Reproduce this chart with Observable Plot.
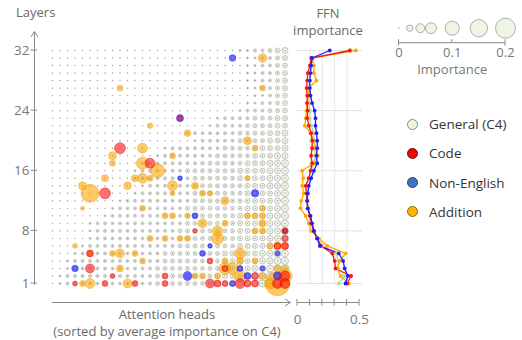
<!DOCTYPE html>
<html><head><meta charset="utf-8">
<script src="https://cdn.jsdelivr.net/npm/d3@7"></script>
<script src="https://cdn.jsdelivr.net/npm/@observablehq/plot@0.6"></script>
<style>
body{margin:0;background:#fff;font-family:"Open Sans",sans-serif;}
#wrap{position:relative;width:522px;height:340px;overflow:hidden;background:#fff}
#wrap svg{position:absolute;left:0;top:0}
.leg{position:absolute;left:407px;font:13.5px "Open Sans",sans-serif;color:#333;display:flex;align-items:center;height:20px}
.leg span.c{display:inline-block;width:11px;height:11px;border-radius:50%;margin-right:11px;box-sizing:border-box}
</style></head><body><div id="wrap"></div>
<script>
// ---------- data ----------
const layerTicks = [1, 8, 16, 24, 32];
const layers = [1,2,3,4,5,6,7,8,9,10,11,12,13,14,15,16,17,18,19,20,21,22,23,24,25,26,27,28,29,30,31,32];
// General (C4) head importance, level digit per head (32 heads), rows from layer 32 down to layer 1
const c4Levels = [0, 0.0005, 0.002, 0.0045, 0.008, 0.0125, 0.018, 0.0245, 0.032, 0.0405];
const c4Rows = [
"00000000 00000000 00000000 02233456", //32
"00000000 00000000 00000000 00223345", //31
"00000000 00000000 00000000 00223345", //30
"00000000 00000000 00000000 00223345", //29
"00000000 00000000 00000000 00223345", //28
"00000000 00000000 00000000 00223345", //27
"00000000 00000000 00000000 00022345", //26
"00000000 00000000 00000000 00223345", //25
"00000000 00000000 00000000 02333445", //24
"00000000 00000000 00000023 33344455", //23
"00000000 00000000 00000233 33444455", //22
"00000000 00000000 00233333 34444556", //21
"00000000 00000000 00023333 34444556", //20
"00000000 00000002 33333334 44445556", //19
"00000000 00000023 33333344 44455566", //18
"00000000 00002333 33334444 44555667", //17
"00000000 00023333 33444444 45555667", //16
"00000000 00023333 33344444 45555667", //15
"00000000 00002333 33344444 44555667", //14
"00000000 00023333 33344444 44555567", //13
"00000000 02333333 33344444 44555567", //12
"00000000 23333333 33444444 44555567", //11
"00000002 33333333 33444444 45555667", //10
"00000233 33333333 33444444 45555667", //9
"00000233 33333333 34444444 45555667", //8
"00000233 33333333 34444444 45555667", //7
"00002333 33333333 34444444 45555667", //6
"00023333 33333334 44444445 55556677", //5
"00233333 33333334 44444445 55556677", //4
"00233333 33333344 44444445 55566778", //3
"02333333 33333344 44444455 55566778", //2
"02333333 33333344 44444455 55667788"  //1
];
// [head, layer, importance]
const additionCells = [
[28,31,0.037],[9,27,0.018],[28,27,0.018],[13,22,0.015],[18,21,0.022],[26,20,0.032],
[27,19,0.018],[12,19,0.05],[8,18,0.032],[16,18,0.018],[8,17,0.018],[12,17,0.072],
[14,16,0.1],[7,15,0.025],[11,15,0.025],[12,15,0.05],[13,15,0.018],[26,15,0.012],
[4,14,0.032],[10,14,0.028],[16,14,0.05],[19,14,0.025],[5,13,0.16],[16,13,0.012],
[20,13,0.018],[21,13,0.015],[23,12,0.032],[4,11,0.008],[12,11,0.018],[28,11,0.018],
[15,10,0.018],[16,10,0.018],[18,10,0.015],[26,10,0.018],[27,10,0.018],[28,10,0.018],
[20,9,0.04],[23,9,0.018],[28,9,0.027],[22,8,0.05],[27,8,0.018],[28,8,0.018],[31,8,0.018],
[22,7,0.072],[13,7,0.018],[15,7,0.018],[17,7,0.018],[18,7,0.018],
[3,6,0.012],[29,6,0.018],[30,6,0.025],[31,6,0.02],
[25,5,0.06],[5,5,0.018],[8,5,0.018],[9,5,0.04],[11,5,0.018],
[12,4,0.018],[23,4,0.018],[25,4,0.025],[27,4,0.018],
[9,3,0.025],[23,3,0.072],[24,3,0.072],[30,3,0.02],[31,3,0.018],
[19,2,0.018],[20,2,0.018],[22,2,0.018],[25,2,0.072],[28,2,0.025],[31,2,0.1],
[4,1,0.018],[5,1,0.05],[10,1,0.04],[29,1,0.06],[30,1,0.3]
];
const nonEnglishCells = [
[24,31,0.022],[17,23,0.025],[17,15,0.012],[27,13,0.028],[19,10,0.018],[31,8,0.01],
[21,6,0.0106],[20,5,0.018],[30,5,0.0125],[3,3,0.022],[25,3,0.018],[28,3,0.0125],
[18,2,0.04],[26,2,0.025],[30,2,0.032],[24,1,0.018]
];
const codeCells = [
[17,23,0.012],[9,19,0.06],[13,17,0.05],[7,13,0.06],[19,8,0.011],[31,8,0.018],[31,7,0.018],
[30,6,0.025],[31,6,0.025],[5,5,0.025],[21,4,0.018],[5,3,0.04],[23,3,0.02],
[8,2,0.0125],[15,2,0.018],[27,2,0.025],[31,2,0.05],
[3,1,0.0125],[7,1,0.018],[11,1,0.018],[15,1,0.018],[21,1,0.04],[22,1,0.025],[23,1,0.018],
[25,1,0.05],[26,1,0.025],[27,1,0.025],[30,1,0.05],[31,1,0.05]
];
// FFN importance per layer (layer 1 .. 32)
const ffnC4 = [0.333,0.38,0.33,0.33,0.31,0.2,0.16,0.13,0.11,0.1,0.08,0.075,0.075,0.075,0.09,0.11,0.135,0.14,0.135,0.135,0.13,0.11,0.1,0.1,0.095,0.095,0.09,0.1,0.1,0.11,0.115,0.43];
const ffnCode = [0.40,0.433,0.306,0.30,0.28,0.19,0.159,0.132,0.11,0.099,0.083,0.078,0.073,0.065,0.091,0.105,0.118,0.11,0.118,0.118,0.11,0.091,0.078,0.083,0.078,0.078,0.073,0.078,0.083,0.10,0.11,0.422];
const ffnNonEnglish = [0.387,0.406,0.38,0.368,0.333,0.18,0.159,0.132,0.118,0.105,0.083,0.078,0.083,0.091,0.11,0.132,0.159,0.153,0.159,0.159,0.153,0.145,0.145,0.138,0.118,0.105,0.099,0.099,0.105,0.11,0.118,0.26];
const ffnAddition = [0.414,0.347,0.32,0.341,0.387,0.24,0.172,0.11,0.091,0.065,0.024,0.03,0.051,0.038,0.046,0.038,0.132,0.164,0.145,0.132,0.105,0.059,0.067,0.073,0.073,0.091,0.091,0.153,0.132,0.132,0.118,0.47];
const ffnTicks = [0, 0.1, 0.2, 0.3, 0.4, 0.5];
const ffnTickLabels = [0, 0.5];
const ffnGridValues = [0.1, 0.2, 0.3, 0.4];
const sizeLegendValues = [0, 0.02, 0.04, 0.06, 0.1, 0.15, 0.2];
const sizeTicks = [0, 0.1, 0.2];
const seriesNames = ["General (C4)", "Code", "Non-English", "Addition"];
const lineColors = ["#b9dd9a", "#ff1414", "#1d1dff", "#ffa800"];

// ---------- build tables ----------
const c4Cells = [];
c4Rows.forEach((row, i) => {
  const layer = 32 - i;
  row.replace(/ /g, "").split("").forEach((d, h) => c4Cells.push({head: h, layer, v: c4Levels[+d]}));
});
const ffnSeries = [ffnC4, ffnCode, ffnNonEnglish, ffnAddition];
const ffnOrder = [0, 3, 1, 2];
const ffnData = [];
ffnOrder.forEach(si => layers.forEach((L, i) => ffnData.push({series: seriesNames[si], layer: L, v: ffnSeries[si][i]})));

const W = 522, H = 340;
const font = {fontFamily: "'Open Sans', sans-serif", fontSize: "13px", color: "#777", background: "transparent", overflow: "visible"};
const rScale = {type: "sqrt", domain: [0, 0.2], range: [0, 10]};
const yScale = {domain: [1, 32], range: [283, 50], label: null};
const cellXY = {x: d => d[0], y: d => d[1], r: d => d[2]};

// ---------- main grid ----------
const grid = Plot.plot({
  width: W, height: H, marginLeft: 35, marginRight: 230, marginTop: 32, marginBottom: 37,
  x: {domain: [0, 31], range: [52, 284.5], axis: null},
  y: yScale, r: rScale, style: font,
  marks: [
    Plot.axisY(layerTicks, {anchor: "left", tickSize: 0, tickPadding: 6, fontSize: 13.5, fill: "#777"}),
    Plot.dot(c4Cells.filter(d => d.v > 0), {x: "head", y: "layer", r: "v", fill: "#eef6e3", stroke: "#a8a8a8", strokeWidth: 0.65}),
    Plot.dot(additionCells, {...cellXY, fill: "#ffa600", fillOpacity: 0.6, stroke: "#e89a00", strokeOpacity: 0.6, strokeWidth: 0.7}),
    Plot.dot(nonEnglishCells, {...cellXY, fill: "#1515ff", fillOpacity: 0.65, stroke: "#1515ff", strokeOpacity: 0.6, strokeWidth: 0.7}),
    Plot.dot(codeCells, {...cellXY, fill: "#ff0a0a", fillOpacity: 0.58, stroke: "#e00000", strokeOpacity: 0.6, strokeWidth: 0.7}),
    Plot.dot(c4Cells, {x: "head", y: "layer", r: 0.7, fill: "#9a9a9a"})
  ]
});

// ---------- FFN panel ----------
const ffn = Plot.plot({
  width: W, height: H, marginLeft: 297, marginRight: 163, marginTop: 50, marginBottom: 37,
  x: {domain: [0, 0.5], range: [297, 359], label: null},
  y: {...yScale, axis: null},
  color: {domain: seriesNames, range: lineColors},
  style: font,
  marks: [
    Plot.ruleY(layerTicks, {y: d => d, x1: 0, x2: 0.525, stroke: "#e0e0e0"}),
    Plot.ruleX(ffnGridValues, {x: d => d, y1: 1, y2: 32, stroke: "#e6e6e6"}),
    Plot.line(ffnData, {x: "v", y: "layer", z: "series", stroke: "series", strokeWidth: 1.3}),
    Plot.dot(ffnData, {x: "v", y: "layer", fill: "series", r: 1.9}),
    Plot.axisX(ffnTickLabels, {anchor: "bottom", tickSize: 0, tickPadding: 11, fontSize: 13.5, fill: "#777", tickFormat: d => String(d)})
  ]
});

// ---------- size legend ----------
const sizeLeg = Plot.plot({
  width: W, height: H, marginLeft: 398.5, marginRight: 17, marginTop: 12.7, marginBottom: 297.3,
  x: {domain: [0, 0.2], range: [398.5, 505], label: null},
  r: rScale, style: font,
  marks: [
    Plot.dot(sizeLegendValues, {x: d => d, r: d => d, fill: "#eef6e3", stroke: "#9c9c9c", strokeWidth: 0.8}),
    Plot.dot([0], {x: d => d, r: 0.75, fill: "#999"}),
    Plot.axisX(sizeTicks, {anchor: "bottom", tickSize: 0, tickPadding: 5, fontSize: 13, fill: "#777", tickFormat: d => String(d)}),
    Plot.text(["Importance"], {frameAnchor: "bottom", dy: 31, text: d => d, fontSize: 13, fill: "#777"})
  ]
});

const wrap = document.getElementById("wrap");
[grid, ffn, sizeLeg].forEach(s => wrap.appendChild(s));

// ---------- axis lines, arrows, titles (positioned from the scales) ----------
const gy = grid.scale("y"), gx = grid.scale("x"), fx = ffn.scale("x"), sx = sizeLeg.scale("x");
const deco = d3.select(grid).append("g").attr("fill", "none").attr("stroke", "#8a8a8a").attr("stroke-width", 1);
const axX = 34.5;
deco.append("line").attr("x1", axX).attr("x2", axX).attr("y1", gy.apply(1) + 2).attr("y2", 32);
deco.append("polyline").attr("points", `${axX-3.5},37 ${axX},31.5 ${axX+3.5},37`);
layerTicks.forEach(t => deco.append("line").attr("x1", axX - 4).attr("x2", axX + 2.5).attr("y1", gy.apply(t)).attr("y2", gy.apply(t)));
const baseY = 302.5;
deco.append("line").attr("x1", gx.apply(0)).attr("x2", 290).attr("y1", baseY).attr("y2", baseY);
deco.append("polyline").attr("points", `285,${baseY-3.5} 290.5,${baseY} 285,${baseY+3.5}`);
// FFN axis
deco.append("line").attr("x1", fx.apply(0)).attr("x2", fx.apply(0.5)).attr("y1", baseY).attr("y2", baseY);
ffnTicks.forEach(t => deco.append("line").attr("x1", fx.apply(t)).attr("x2", fx.apply(t)).attr("y1", baseY - 3.5).attr("y2", baseY + 3));
// size legend axis
const sy = 42.7;
deco.append("line").attr("x1", sx.apply(0)).attr("x2", sx.apply(0.2)).attr("y1", sy).attr("y2", sy);
sizeTicks.forEach(t => deco.append("line").attr("x1", sx.apply(t)).attr("x2", sx.apply(t)).attr("y1", sy - 3.5).attr("y2", t === 0.1 ? sy : sy + 3));

const txt = d3.select(grid).append("g").attr("fill", "#6a6a6a").attr("text-anchor", "start").style("font-family", "'Open Sans', sans-serif").style("font-size", "13px");
txt.append("text").attr("x", 16).attr("y", 17).attr("text-anchor", "start").text("Layers");
txt.append("text").attr("x", 328).attr("y", 18).attr("text-anchor", "middle").text("FFN");
txt.append("text").attr("x", 328).attr("y", 35).attr("text-anchor", "middle").text("importance");
txt.append("text").attr("x", 167).attr("y", 319).attr("text-anchor", "middle").text("Attention heads");
txt.append("text").attr("x", 167).attr("y", 336).attr("text-anchor", "middle").text("(sorted by average importance on C4)");

// ---------- color legend ----------
const legFill = ["#eef6e3", "#ff0000", "#3d72c4", "#ffb400"];
const legStroke = ["#8a8a8a", "#5a1a1a", "#2a3f66", "#8a6a20"];
const legTop = [124, 153, 182.5, 211.5];
seriesNames.forEach((n, i) => {
  const d = document.createElement("div");
  d.className = "leg";
  d.style.top = (legTop[i] - 10) + "px";
  d.innerHTML = `<span class="c" style="background:${legFill[i]};border:1px solid ${legStroke[i]}"></span>${n}`;
  wrap.appendChild(d);
});
</script>
</body></html>
